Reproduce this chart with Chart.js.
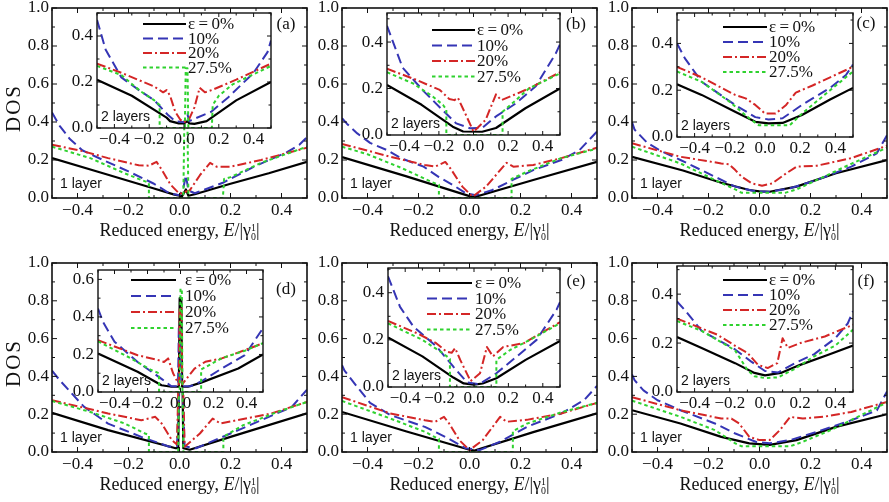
<!DOCTYPE html>
<html><head><meta charset="utf-8">
<script src="https://cdn.jsdelivr.net/npm/chart.js@4.4.1/dist/chart.umd.min.js"></script>
<style>
body{margin:0;background:#fff;width:889px;height:502px;overflow:hidden;position:relative;font-family:"Liberation Serif",serif;color:#111}
canvas{position:absolute;left:0;top:0}
.xt{position:absolute;font-size:18px;white-space:nowrap;transform:translate(-50%,-50%)}
.yt{position:absolute;font-size:21px;letter-spacing:2px;white-space:nowrap;transform:translate(-50%,-50%) rotate(-90deg)}
.ss{display:inline-block;vertical-align:-0.45em;font-size:0.55em;line-height:0.95;text-align:left}
.ss span{display:block}
</style></head><body>
<script>
// ---------- tick labels / texts ----------
const MAIN_X_TICKS=[-0.4,-0.2,0,0.2,0.4];
const MAIN_Y_TICKS=[0,0.2,0.4,0.6,0.8,1.0];
const INSET_Y_TICKS=[0,0.2,0.4];
const INSET_D_Y_TICKS=[0,0.2,0.4,0.6];
const LEGEND_LABELS=['\u03b5\u2009=\u20090%','10%','20%','27.5%'];
const PANEL_LABELS=['(a)','(b)','(c)','(d)','(e)','(f)'];

// ---------- data: [E, DOS] ----------  series order: eps 0%, 10%, 20%, 27.5%
// (a) 1 layer
const A_K=[[-0.5,0.21],[-0.3,0.13],[-0.1,0.05],[-0.02,0.018],[0.01,0.01],[0.025,0.045],[0.035,0.012],[0.06,0.02],[0.2,0.075],[0.35,0.13],[0.5,0.19]];
const A_B=[[-0.5,0.45],[-0.47,0.38],[-0.43,0.31],[-0.38,0.25],[-0.3,0.2],[-0.2,0.14],[-0.1,0.075],[-0.04,0.025],[0,0.015],[0.015,0.05],[0.025,0.12],[0.035,0.04],[0.06,0.025],[0.17,0.08],[0.3,0.17],[0.42,0.24],[0.47,0.28],[0.5,0.32]];
const A_R=[[-0.5,0.28],[-0.39,0.25],[-0.28,0.21],[-0.16,0.172],[-0.12,0.17],[-0.09,0.19],[-0.07,0.15],[-0.035,0.07],[0,0.022],[0.04,0.04],[0.08,0.12],[0.12,0.185],[0.145,0.165],[0.2,0.165],[0.32,0.2],[0.5,0.265]];
const A_G=[[-0.5,0.27],[-0.35,0.21],[-0.215,0.13],[-0.15,0.095],[-0.12,0.08],[-0.12,0],[0.015,0],[0.02,0.5],[0.03,0.5],[0.035,0],[0.17,0],[0.175,0.1],[0.2,0.11],[0.32,0.185],[0.5,0.27]];
// (a) 2 layers
const AI_K=[[-0.5,0.21],[-0.3,0.14],[-0.1,0.045],[-0.08,0.03],[-0.03,0.02],[0,0.02],[0.02,0.03],[0.03,0.02],[0.06,0.018],[0.13,0.03],[0.3,0.12],[0.5,0.2]];
const AI_B=[[-0.5,0.47],[-0.45,0.34],[-0.36,0.22],[-0.25,0.16],[-0.17,0.12],[-0.09,0.055],[-0.05,0.03],[0,0.025],[0.02,0.06],[0.03,0.03],[0.06,0.04],[0.155,0.07],[0.25,0.13],[0.4,0.24],[0.48,0.33],[0.5,0.38]];
const AI_R=[[-0.5,0.28],[-0.36,0.24],[-0.17,0.18],[-0.12,0.155],[-0.1,0.165],[-0.08,0.14],[-0.05,0.07],[-0.02,0.035],[0,0.025],[0.03,0.04],[0.06,0.09],[0.09,0.175],[0.12,0.155],[0.16,0.165],[0.3,0.21],[0.5,0.28]];
const AI_G=[[-0.5,0.27],[-0.36,0.23],[-0.25,0.16],[-0.17,0.12],[-0.14,0.1],[-0.14,0],[0.005,0],[0.01,0.26],[0.02,0.26],[0.025,0],[0.16,0],[0.165,0.1],[0.2,0.14],[0.28,0.19],[0.5,0.27]];
// (b) 1 layer
const B_K=[[-0.5,0.215],[-0.25,0.115],[0,0.01],[0.02,0.005],[0.25,0.095],[0.5,0.19]];
const B_B=[[-0.5,0.42],[-0.48,0.39],[-0.44,0.34],[-0.39,0.29],[-0.32,0.25],[-0.27,0.21],[-0.18,0.165],[-0.12,0.11],[-0.055,0.06],[-0.015,0.025],[0.025,0.015],[0.09,0.042],[0.17,0.095],[0.25,0.147],[0.36,0.2],[0.43,0.25],[0.5,0.35]];
const B_R=[[-0.5,0.285],[-0.31,0.217],[-0.175,0.174],[-0.135,0.165],[-0.095,0.19],[-0.075,0.156],[-0.028,0.06],[0.012,0.007],[0.065,0.06],[0.145,0.185],[0.172,0.165],[0.25,0.174],[0.36,0.21],[0.5,0.265]];
const B_G=[[-0.5,0.27],[-0.4,0.23],[-0.27,0.16],[-0.15,0.085],[-0.12,0.07],[-0.12,0],[0.165,0],[0.165,0.1],[0.225,0.138],[0.36,0.21],[0.5,0.26]];
// (b) 2 layers
const BI_K=[[-0.5,0.215],[-0.3,0.13],[-0.12,0.036],[-0.06,0.015],[0.05,0.014],[0.13,0.03],[0.3,0.115],[0.5,0.2]];
const BI_B=[[-0.5,0.47],[-0.46,0.39],[-0.41,0.29],[-0.29,0.19],[-0.18,0.108],[-0.1,0.05],[-0.02,0.029],[0.05,0.03],[0.13,0.08],[0.245,0.136],[0.36,0.21],[0.475,0.35],[0.5,0.39]];
const BI_R=[[-0.5,0.285],[-0.33,0.237],[-0.195,0.194],[-0.14,0.155],[-0.11,0.15],[-0.09,0.16],[-0.04,0.08],[0,0.014],[0.07,0.065],[0.13,0.175],[0.16,0.15],[0.21,0.165],[0.32,0.2],[0.5,0.27]];
const BI_G=[[-0.5,0.27],[-0.35,0.222],[-0.234,0.165],[-0.176,0.129],[-0.157,0.11],[-0.157,0],[0.168,0],[0.168,0.1],[0.245,0.15],[0.32,0.2],[0.5,0.265]];
// (c) 1 layer
const C_K=[[-0.5,0.217],[-0.3,0.145],[-0.15,0.08],[-0.04,0.042],[0,0.035],[0.04,0.033],[0.145,0.06],[0.3,0.13],[0.5,0.2]];
const C_B=[[-0.5,0.4],[-0.49,0.36],[-0.44,0.29],[-0.39,0.25],[-0.31,0.2],[-0.175,0.112],[-0.095,0.06],[-0.015,0.035],[0.04,0.033],[0.12,0.051],[0.225,0.095],[0.36,0.165],[0.46,0.235],[0.5,0.33]];
const C_R=[[-0.5,0.288],[-0.31,0.217],[-0.15,0.182],[-0.12,0.178],[-0.095,0.147],[-0.07,0.112],[-0.03,0.077],[0.01,0.065],[0.05,0.077],[0.105,0.13],[0.145,0.165],[0.225,0.17],[0.36,0.21],[0.5,0.275]];
const C_G=[[-0.5,0.27],[-0.31,0.182],[-0.175,0.095],[-0.095,0.045],[-0.07,0.027],[0.1,0.027],[0.145,0.045],[0.225,0.095],[0.36,0.18],[0.5,0.265]];
// (c) 2 layers
const CI_K=[[-0.5,0.225],[-0.36,0.18],[-0.17,0.108],[-0.055,0.065],[0.02,0.058],[0.1,0.06],[0.21,0.094],[0.37,0.16],[0.5,0.21]];
const CI_B=[[-0.5,0.4],[-0.455,0.336],[-0.36,0.236],[-0.17,0.137],[-0.055,0.085],[0.02,0.075],[0.1,0.08],[0.21,0.137],[0.37,0.21],[0.46,0.265],[0.5,0.31]];
const CI_R=[[-0.5,0.3],[-0.36,0.255],[-0.17,0.18],[-0.11,0.165],[-0.055,0.137],[0,0.1],[0.06,0.1],[0.12,0.137],[0.175,0.19],[0.27,0.22],[0.37,0.255],[0.5,0.3]];
const CI_G=[[-0.5,0.28],[-0.36,0.236],[-0.2,0.15],[-0.09,0.08],[-0.035,0.05],[0.14,0.05],[0.21,0.1],[0.37,0.2],[0.5,0.28]];
// (d) 1 layer
const D_K=[[-0.5,0.207],[-0.28,0.116],[-0.015,0.02],[-0.005,0.02],[0,0.6],[0.01,0.6],[0.015,0.02],[0.04,0.012],[0.2,0.08],[0.5,0.205]];
const D_B=[[-0.5,0.43],[-0.47,0.38],[-0.375,0.24],[-0.28,0.15],[-0.15,0.08],[-0.04,0.028],[-0.01,0.03],[0,0.35],[0.012,0.35],[0.02,0.03],[0.065,0.02],[0.2,0.098],[0.32,0.168],[0.44,0.238],[0.5,0.33]];
const D_R=[[-0.5,0.274],[-0.28,0.204],[-0.15,0.168],[-0.095,0.186],[-0.07,0.151],[-0.03,0.063],[-0.01,0.04],[0,0.6],[0.01,0.6],[0.02,0.028],[0.08,0.098],[0.13,0.177],[0.16,0.151],[0.225,0.168],[0.36,0.204],[0.5,0.265]];
const D_G=[[-0.5,0.27],[-0.35,0.212],[-0.215,0.151],[-0.135,0.098],[-0.12,0.09],[-0.12,0],[-0.005,0],[0,0.6],[0.01,0.6],[0.015,0],[0.172,0],[0.172,0.08],[0.25,0.142],[0.385,0.212],[0.5,0.265]];
// (d) 2 layers
const DI_K=[[-0.5,0.205],[-0.26,0.108],[-0.115,0.036],[-0.055,0.028],[-0.01,0.028],[-0.005,0.5],[0.005,0.5],[0.01,0.028],[0.045,0.028],[0.125,0.05],[0.35,0.125],[0.5,0.2]];
const DI_B=[[-0.5,0.445],[-0.47,0.374],[-0.4,0.268],[-0.26,0.16],[-0.115,0.07],[-0.055,0.03],[-0.015,0.03],[-0.01,0.35],[0,0.35],[0.005,0.03],[0.06,0.03],[0.125,0.056],[0.25,0.125],[0.39,0.196],[0.5,0.34]];
const DI_R=[[-0.5,0.276],[-0.26,0.196],[-0.135,0.17],[-0.1,0.16],[-0.075,0.179],[-0.045,0.1],[-0.01,0.04],[-0.005,0.45],[0.005,0.45],[0.01,0.04],[0.045,0.08],[0.085,0.125],[0.15,0.161],[0.25,0.179],[0.39,0.223],[0.5,0.26]];
const DI_G=[[-0.5,0.27],[-0.3,0.179],[-0.177,0.117],[-0.13,0.1],[-0.13,0],[-0.005,0],[0,0.55],[0.008,0.55],[0.012,0],[0.125,0],[0.125,0.12],[0.25,0.18],[0.39,0.22],[0.5,0.26]];
// (e) 1 layer
const E_K=[[-0.5,0.212],[-0.25,0.11],[0,0.012],[0.02,0.008],[0.25,0.105],[0.5,0.205]];
const E_B=[[-0.5,0.46],[-0.49,0.43],[-0.44,0.344],[-0.39,0.26],[-0.31,0.195],[-0.175,0.133],[-0.095,0.08],[-0.015,0.02],[0.04,0.01],[0.12,0.054],[0.225,0.133],[0.36,0.204],[0.45,0.275],[0.5,0.35]];
const E_R=[[-0.5,0.29],[-0.31,0.204],[-0.175,0.168],[-0.135,0.16],[-0.1,0.186],[-0.08,0.151],[-0.04,0.063],[0,0.01],[0.052,0.063],[0.12,0.186],[0.145,0.16],[0.225,0.17],[0.36,0.204],[0.5,0.26]];
const E_G=[[-0.5,0.27],[-0.31,0.177],[-0.175,0.107],[-0.13,0.075],[-0.12,0.07],[-0.12,0],[0.17,0],[0.17,0.11],[0.225,0.15],[0.36,0.21],[0.5,0.26]];
// (e) 2 layers
const EI_K=[[-0.5,0.21],[-0.3,0.13],[-0.12,0.04],[-0.06,0.015],[0,0.01],[0.05,0.015],[0.13,0.037],[0.3,0.115],[0.5,0.195]];
const EI_B=[[-0.5,0.47],[-0.43,0.34],[-0.353,0.257],[-0.217,0.171],[-0.12,0.086],[-0.04,0.02],[0.03,0.012],[0.13,0.058],[0.248,0.129],[0.364,0.2],[0.48,0.328],[0.5,0.36]];
const EI_R=[[-0.5,0.28],[-0.33,0.228],[-0.22,0.186],[-0.16,0.15],[-0.13,0.145],[-0.11,0.165],[-0.08,0.115],[-0.02,0.025],[0.035,0.058],[0.075,0.17],[0.11,0.13],[0.17,0.17],[0.29,0.186],[0.5,0.275]];
const EI_G=[[-0.5,0.27],[-0.3,0.2],[-0.18,0.143],[-0.14,0.12],[-0.14,0],[0.13,0],[0.13,0.115],[0.21,0.157],[0.325,0.2],[0.5,0.27]];
// (f) 1 layer
const F_K=[[-0.5,0.221],[-0.31,0.151],[-0.15,0.08],[-0.04,0.046],[0.04,0.038],[0.145,0.063],[0.3,0.133],[0.5,0.2]];
const F_B=[[-0.5,0.41],[-0.49,0.38],[-0.455,0.326],[-0.4,0.274],[-0.31,0.221],[-0.175,0.151],[-0.095,0.098],[-0.015,0.054],[0.04,0.046],[0.12,0.063],[0.225,0.107],[0.36,0.168],[0.46,0.22],[0.5,0.32]];
const F_R=[[-0.5,0.29],[-0.31,0.221],[-0.15,0.177],[-0.11,0.177],[-0.08,0.151],[-0.04,0.08],[0,0.063],[0.04,0.063],[0.08,0.116],[0.12,0.186],[0.17,0.177],[0.25,0.186],[0.36,0.212],[0.5,0.265]];
const F_G=[[-0.5,0.272],[-0.31,0.186],[-0.175,0.116],[-0.095,0.046],[-0.07,0.03],[0.12,0.03],[0.17,0.054],[0.28,0.116],[0.385,0.186],[0.5,0.262]];
// (f) 2 layers
const FI_K=[[-0.5,0.225],[-0.36,0.18],[-0.17,0.118],[-0.06,0.078],[0,0.068],[0.09,0.078],[0.2,0.111],[0.36,0.152],[0.5,0.19]];
const FI_B=[[-0.5,0.37],[-0.45,0.33],[-0.36,0.25],[-0.17,0.174],[-0.08,0.125],[0,0.086],[0.075,0.08],[0.17,0.118],[0.28,0.155],[0.4,0.22],[0.47,0.28],[0.5,0.33]];
const FI_R=[[-0.5,0.3],[-0.27,0.234],[-0.15,0.18],[-0.1,0.16],[-0.04,0.111],[0.015,0.098],[0.07,0.118],[0.1,0.22],[0.13,0.18],[0.2,0.2],[0.34,0.227],[0.5,0.275]];
const FI_G=[[-0.5,0.29],[-0.36,0.25],[-0.17,0.17],[-0.1,0.09],[-0.06,0.064],[0,0.057],[0.075,0.06],[0.17,0.095],[0.28,0.146],[0.4,0.19],[0.5,0.255]];

// ---------- styles & layout ----------
const STYLES=[
  {color:'#000000',dash:[],width:2.2},
  {color:'#3535b5',dash:[10,5],width:2},
  {color:'#d42626',dash:[9,3,2,3],width:2},
  {color:'#2fd22f',dash:[3.5,3],width:2}
];
const DRAW_ORDER=[3,2,1,0];
const MAIN_GEOM=[
  {L:52,T:8,R:307,B:198,labY:17},{L:342,T:8,R:597,B:198,labY:17},{L:632,T:8,R:887,B:198,labY:16},
  {L:52,T:263,R:307,B:452,labY:27},{L:342,T:263,R:597,B:452,labY:19},{L:632,T:263,R:887,B:452,labY:19}
];
const INSET_GEOM=[
  {L:97,T:13,R:271,B:128,ymax:0.5,lt:11,lg:14.5,s0:-128,s1:-85,tx:-83},
  {L:387,T:13,R:560,B:135,ymax:0.525,lt:17,lg:15.5,s0:-128,s1:-85,tx:-83},
  {L:677,T:13,R:853,B:137,ymax:0.53,lt:14,lg:15,s0:-130,s1:-86,tx:-84},
  {L:98,T:270,R:263,B:392,ymax:0.65,lt:10,lg:16,s0:-132,s1:-87,tx:-78},
  {L:388,T:268,R:560,B:387,ymax:0.505,lt:15,lg:15.5,s0:-133,s1:-88,tx:-85},
  {L:677,T:266,R:853,B:392,ymax:0.515,lt:14,lg:15,s0:-130,s1:-86,tx:-84}
];
const MAIN_DATA=[[A_K,A_B,A_R,A_G],[B_K,B_B,B_R,B_G],[C_K,C_B,C_R,C_G],[D_K,D_B,D_R,D_G],[E_K,E_B,E_R,E_G],[F_K,F_B,F_R,F_G]];
const INSET_DATA=[[AI_K,AI_B,AI_R,AI_G],[BI_K,BI_B,BI_R,BI_G],[CI_K,CI_B,CI_R,CI_G],[DI_K,DI_B,DI_R,DI_G],[EI_K,EI_B,EI_R,EI_G],[FI_K,FI_B,FI_R,FI_G]];

const W=889,H=502,YW=40,XH=30;
const SERIF='"Liberation Serif", "Times New Roman", serif';
function fmt(v){return (v<-1e-9?'\u2212':'')+Math.abs(v).toFixed(1);}

function decoPlugin(d){
  return {
    id:'deco',
    beforeDraw(chart){
      if(!d.inset) return;
      const a=chart.chartArea,ctx=chart.ctx;
      ctx.save();ctx.fillStyle='#ffffff';
      ctx.fillRect(a.left,a.top,a.right-a.left,a.bottom-a.top);ctx.restore();
    },
    afterDraw(chart){
      const ctx=chart.ctx,a=chart.chartArea,xs=chart.scales.x,ys=chart.scales.y;
      ctx.save();
      ctx.setLineDash([]);ctx.strokeStyle='#111';
      ctx.lineWidth=d.inset?1.4:1.6;
      ctx.strokeRect(a.left,a.top,a.right-a.left,a.bottom-a.top);
      const maj=d.inset?4:5,mn=d.inset?2.5:3;
      ctx.lineWidth=1;ctx.beginPath();
      for(let i=-5;i<=5;i++){
        const px=xs.getPixelForValue(i/10),l=(i%2===0)?maj:mn;
        ctx.moveTo(px,a.bottom);ctx.lineTo(px,a.bottom-l);
        ctx.moveTo(px,a.top);ctx.lineTo(px,a.top+l);
      }
      const nY=Math.floor(d.ymax*10+1e-6);
      for(let j=0;j<=nY;j++){
        const py=ys.getPixelForValue(j/10),l=(j%2===0)?maj:mn;
        ctx.moveTo(a.left,py);ctx.lineTo(a.left+l,py);
        ctx.moveTo(a.right,py);ctx.lineTo(a.right-l,py);
      }
      ctx.stroke();
      ctx.fillStyle='#111';
      if(!d.inset){
        ctx.font='14px "Liberation Sans", Arial, sans-serif';
        ctx.textAlign='left';ctx.textBaseline='alphabetic';
        ctx.fillText('1 layer',a.left+8,a.bottom-10);
        ctx.font='17px '+SERIF;ctx.textAlign='center';ctx.textBaseline='middle';
        ctx.fillText(PANEL_LABELS[d.k],a.left+234,a.top+d.g.labY);
      }else{
        const g=d.g;
        ctx.font='14px "Liberation Sans", Arial, sans-serif';
        ctx.textAlign='left';ctx.textBaseline='alphabetic';
        ctx.fillText('2 layers',a.left+4,a.bottom-7);
        ctx.font='17px '+SERIF;ctx.textBaseline='middle';
        for(let i=0;i<4;i++){
          const y=a.top+g.lt+i*g.lg,st=STYLES[i];
          ctx.strokeStyle=st.color;ctx.lineWidth=st.width;ctx.setLineDash(st.dash);
          ctx.beginPath();ctx.moveTo(a.right+g.s0,y);ctx.lineTo(a.right+g.s1,y);ctx.stroke();
          ctx.setLineDash([]);
          ctx.fillText(LEGEND_LABELS[i],a.right+g.tx,y+1);
        }
      }
      ctx.restore();
    }
  };
}

function makePanel(k,g,series,inset){
  const c=document.createElement('canvas');c.width=W;c.height=H;document.body.appendChild(c);
  const ymax=inset?g.ymax:1.0;
  const yTicks=inset?(k===3?INSET_D_Y_TICKS:INSET_Y_TICKS):MAIN_Y_TICKS;
  const datasets=series.map((pts,i)=>({
    data:pts.map(p=>({x:p[0],y:p[1]})),
    borderColor:STYLES[i].color,borderDash:STYLES[i].dash,borderWidth:STYLES[i].width,
    pointRadius:0,fill:false,tension:0,order:DRAW_ORDER[i],borderJoinStyle:'round'
  }));
  const tickFont={family:SERIF,size:17};
  new Chart(c,{
    type:'line',
    data:{datasets},
    options:{
      responsive:false,animation:false,devicePixelRatio:1,events:[],
      layout:{padding:{left:g.L-YW,top:g.T,right:W-g.R,bottom:H-g.B-XH}},
      plugins:{legend:{display:false},tooltip:{enabled:false}},
      scales:{
        x:{type:'linear',min:-0.5,max:0.5,
          afterBuildTicks:s=>{s.ticks=MAIN_X_TICKS.map(v=>({value:v}));},
          afterFit:s=>{s.height=XH;s.paddingLeft=0;s.paddingRight=0;},
          grid:{display:false,drawTicks:false},border:{display:false},
          ticks:{padding:inset?1:2,font:tickFont,color:'#111',callback:v=>fmt(v),maxRotation:0,autoSkip:false}},
        y:{type:'linear',min:0,max:ymax,
          afterBuildTicks:s=>{s.ticks=yTicks.map(v=>({value:v}));},
          afterFit:s=>{s.width=YW;s.paddingTop=0;s.paddingBottom=0;},
          grid:{display:false,drawTicks:false},border:{display:false},
          ticks:{padding:inset?4:3,font:tickFont,color:'#111',callback:v=>fmt(v),autoSkip:false}}
      }
    },
    plugins:[decoPlugin({inset,k,g,ymax})]
  });
}

for(let k=0;k<6;k++){
  makePanel(k,MAIN_GEOM[k],MAIN_DATA[k],false);
  makePanel(k,INSET_GEOM[k],INSET_DATA[k],true);
}

// axis titles (HTML text)
MAIN_GEOM.forEach((g,k)=>{
  const t=document.createElement('div');t.className='xt';
  t.style.left=((g.L+g.R)/2)+'px';t.style.top=(g.B+33)+'px';
  t.innerHTML='Reduced energy, <i>E</i>/|\u03b3<span class="ss"><span>1</span><span>0</span></span>|';
  document.body.appendChild(t);
  if(k%3===0){
    const y=document.createElement('div');y.className='yt';
    y.style.left='13px';y.style.top=(g.T+100)+'px';y.textContent='DOS';
    document.body.appendChild(y);
  }
});
</script>
</body></html>
